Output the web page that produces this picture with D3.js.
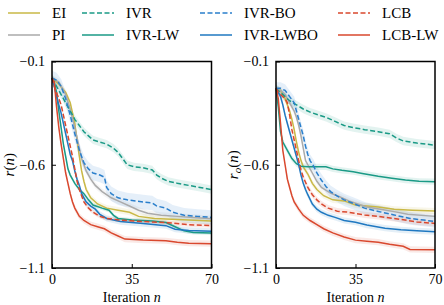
<!DOCTYPE html>
<html>
<head>
<meta charset="utf-8">
<script src="https://cdn.jsdelivr.net/npm/d3@7"></script>
<style>
  body { margin: 0; background: #fff; }
  text { font-family: "Liberation Serif", "DejaVu Serif", serif; fill: #000; }
</style>
</head>
<body>
<script>
const W = 444, H = 305;

const iterTicks = [0, 35, 70];
const rTicks = [-0.1, -0.6, -1.1];

const methods = ['EI', 'PI', 'IVR', 'IVR-LW', 'IVR-BO', 'IVR-LWBO', 'LCB', 'LCB-LW'];
const colors = ['#c9b846', '#aaaaaa', '#1a9a86', '#1a9a86', '#2a7fcc', '#1f78c1', '#d9482e', '#d9482e'];
const dashed = [false, false, true, false, true, false, true, false];

// left panel, r(n)
const leftEI = [[0,-0.18],[3,-0.21],[6,-0.25],[8,-0.30],[10,-0.40],[11,-0.48],[12,-0.56],[13,-0.63],[14,-0.68],[15,-0.72],[17,-0.76],[20,-0.79],[24,-0.81],[29,-0.82],[34,-0.83],[38,-0.85],[45,-0.86],[55,-0.865],[70,-0.872]];
const leftPI = [[0,-0.18],[3,-0.20],[6,-0.26],[8,-0.33],[10,-0.42],[12,-0.52],[13,-0.57],[15,-0.63],[17,-0.67],[19,-0.70],[22,-0.73],[26,-0.76],[30,-0.78],[34,-0.80],[38,-0.82],[42,-0.835],[48,-0.845],[55,-0.85],[62,-0.855],[70,-0.862]];
const leftIVR = [[0,-0.18],[2,-0.22],[4,-0.26],[6,-0.30],[8,-0.34],[10,-0.38],[12,-0.41],[14,-0.44],[16,-0.46],[18,-0.48],[21,-0.49],[24,-0.50],[27,-0.52],[29,-0.54],[31,-0.57],[33,-0.60],[36,-0.61],[40,-0.615],[44,-0.625],[46,-0.65],[48,-0.665],[51,-0.68],[55,-0.69],[60,-0.70],[65,-0.71],[70,-0.72]];
const leftIVRLW = [[0,-0.18],[1,-0.20],[2,-0.25],[3,-0.34],[4,-0.42],[5,-0.50],[6,-0.56],[7,-0.62],[8,-0.65],[10,-0.69],[12,-0.72],[14,-0.74],[16,-0.77],[18,-0.795],[22,-0.81],[25,-0.82],[27,-0.845],[29,-0.86],[35,-0.868],[44,-0.872],[50,-0.88],[54,-0.90],[58,-0.92],[62,-0.928],[70,-0.93]];
const leftIVRBO = [[0,-0.18],[2,-0.19],[4,-0.22],[6,-0.28],[8,-0.36],[10,-0.45],[12,-0.53],[14,-0.59],[16,-0.62],[18,-0.64],[21,-0.65],[23,-0.66],[24,-0.71],[26,-0.74],[29,-0.76],[33,-0.77],[40,-0.78],[44,-0.785],[46,-0.80],[50,-0.81],[53,-0.83],[58,-0.845],[64,-0.85],[70,-0.855]];
const leftIVRLWBO = [[0,-0.18],[1,-0.22],[2,-0.27],[3,-0.31],[4,-0.35],[5,-0.40],[6,-0.45],[7,-0.50],[8,-0.55],[9,-0.58],[10,-0.63],[11,-0.67],[12,-0.70],[13,-0.74],[15,-0.78],[17,-0.80],[19,-0.815],[21,-0.84],[24,-0.86],[30,-0.875],[40,-0.885],[50,-0.895],[54,-0.912],[60,-0.918],[70,-0.922]];
const leftLCB = [[0,-0.18],[1,-0.22],[2,-0.25],[3,-0.28],[4,-0.31],[5,-0.36],[6,-0.41],[7,-0.46],[8,-0.51],[9,-0.56],[10,-0.62],[11,-0.68],[12,-0.72],[14,-0.78],[16,-0.81],[18,-0.83],[21,-0.85],[24,-0.86],[30,-0.868],[40,-0.875],[50,-0.88],[60,-0.89],[70,-0.895]];
const leftLCBLW = [[0,-0.18],[1,-0.20],[2,-0.32],[3,-0.42],[4,-0.50],[5,-0.57],[6,-0.64],[7,-0.69],[8,-0.74],[9,-0.78],[10,-0.81],[12,-0.85],[14,-0.87],[17,-0.89],[20,-0.90],[23,-0.91],[26,-0.93],[29,-0.945],[32,-0.96],[40,-0.965],[50,-0.968],[55,-0.975],[60,-0.98],[70,-0.982]];

// right panel, r_o(n)
const rightEI = [[0,-0.23],[2,-0.24],[4,-0.28],[6,-0.34],[7,-0.38],[8,-0.43],[9,-0.49],[10,-0.54],[11,-0.58],[12,-0.61],[14,-0.645],[16,-0.69],[18,-0.72],[21,-0.75],[25,-0.77],[30,-0.775],[35,-0.795],[40,-0.80],[45,-0.805],[52,-0.816],[60,-0.82],[70,-0.824]];
const rightPI = [[0,-0.23],[2,-0.24],[4,-0.26],[6,-0.30],[8,-0.34],[9,-0.37],[10,-0.41],[11,-0.46],[12,-0.52],[13,-0.58],[14,-0.60],[16,-0.64],[18,-0.68],[20,-0.71],[24,-0.737],[28,-0.755],[32,-0.775],[36,-0.79],[40,-0.805],[46,-0.815],[52,-0.827],[58,-0.84],[70,-0.85]];
const rightIVR = [[0,-0.23],[2,-0.25],[4,-0.27],[6,-0.29],[9,-0.31],[12,-0.33],[15,-0.345],[19,-0.36],[22,-0.37],[26,-0.39],[30,-0.41],[34,-0.42],[39,-0.43],[45,-0.44],[50,-0.45],[53,-0.47],[56,-0.485],[62,-0.495],[70,-0.505]];
const rightIVRLW = [[0,-0.23],[1,-0.32],[2,-0.44],[3,-0.49],[5,-0.53],[7,-0.57],[9,-0.595],[11,-0.607],[14,-0.61],[22,-0.61],[25,-0.62],[29,-0.627],[34,-0.634],[38,-0.642],[45,-0.656],[51,-0.665],[57,-0.674],[63,-0.68],[70,-0.682]];
const rightIVRBO = [[0,-0.23],[2,-0.23],[4,-0.24],[6,-0.27],[8,-0.30],[9,-0.34],[10,-0.38],[11,-0.42],[12,-0.46],[13,-0.51],[14,-0.55],[15,-0.58],[16.5,-0.605],[18,-0.64],[20,-0.675],[22,-0.705],[24,-0.73],[27,-0.752],[30,-0.77],[34,-0.787],[39,-0.81],[45,-0.826],[52,-0.843],[59,-0.86],[65,-0.868],[70,-0.875]];
const rightIVRLWBO = [[0,-0.23],[1,-0.25],[2,-0.27],[3,-0.31],[4,-0.36],[5,-0.40],[6,-0.44],[7,-0.48],[8,-0.52],[9,-0.56],[10,-0.60],[11,-0.65],[12,-0.69],[13,-0.72],[14,-0.745],[16,-0.79],[18,-0.815],[20,-0.83],[23,-0.845],[26,-0.855],[30,-0.87],[35,-0.878],[40,-0.892],[48,-0.907],[55,-0.915],[62,-0.92],[70,-0.924]];
const rightLCB = [[0,-0.23],[1,-0.25],[2,-0.26],[3,-0.27],[4,-0.28],[5,-0.30],[6,-0.36],[7,-0.43],[8,-0.48],[9,-0.53],[10,-0.58],[11,-0.625],[12,-0.66],[14,-0.71],[16,-0.745],[18,-0.77],[20,-0.79],[23,-0.81],[27,-0.825],[32,-0.83],[39,-0.843],[45,-0.85],[52,-0.86],[58,-0.87],[62,-0.877],[70,-0.884]];
const rightLCBLW = [[0,-0.23],[1,-0.28],[2,-0.40],[3,-0.53],[4,-0.60],[5,-0.67],[6,-0.71],[7,-0.75],[8,-0.78],[10,-0.815],[12,-0.845],[15,-0.87],[18,-0.89],[21,-0.91],[25,-0.93],[30,-0.95],[35,-0.965],[40,-0.97],[45,-0.975],[50,-0.985],[56,-0.995],[59,-1.01],[70,-1.012]];

// half width of the shaded band, per method
const leftSpread = [0.015, 0.015, 0.02, 0.01, 0.035, 0.015, 0.01, 0.015];
const rightSpread = [0.015, 0.015, 0.02, 0.015, 0.03, 0.015, 0.015, 0.015];

const panels = [
  { x0: 52, x1: 211.5, label: 'r', series: [leftEI, leftPI, leftIVR, leftIVRLW, leftIVRBO, leftIVRLWBO, leftLCB, leftLCBLW], spread: leftSpread, ylabX: 14 },
  { x0: 276, x1: 435, label: 'ro', series: [rightEI, rightPI, rightIVR, rightIVRLW, rightIVRBO, rightIVRLWBO, rightLCB, rightLCBLW], spread: rightSpread, ylabX: 238 }
];
const yTop = 61.5, yBot = 268;

const svg = d3.select('body').append('svg')
    .attr('width', W)
    .attr('height', H);

const yScale = d3.scaleLinear().domain([-0.1, -1.1]).range([yTop, yBot]);

panels.forEach(p => {
    const xScale = d3.scaleLinear().domain([0, 70]).range([p.x0, p.x1]);
    const g = svg.append('g');

    const area = d3.area().x(d => xScale(d[0]))
        .y0((d) => yScale(d[1] - d[2]))
        .y1((d) => yScale(d[1] + d[2]));
    const line = d3.line().x(d => xScale(d[0])).y(d => yScale(d[1]));

    // bands
    p.series.forEach((s, i) => {
        g.append('path')
            .attr('d', area(s.map(d => [d[0], d[1], p.spread[i]])))
            .attr('fill', colors[i])
            .attr('fill-opacity', 0.12);
    });

    // lines
    p.series.forEach((s, i) => {
        g.append('path')
            .attr('d', line(s))
            .attr('fill', 'none')
            .attr('stroke', colors[i])
            .attr('stroke-width', 1.5)
            .attr('stroke-dasharray', dashed[i] ? '5,2.5' : null);
    });

    // frame
    g.append('rect')
        .attr('x', p.x0).attr('y', yTop)
        .attr('width', p.x1 - p.x0).attr('height', yBot - yTop)
        .attr('fill', 'none').attr('stroke', '#000').attr('stroke-width', 1.5);

    // axes, ticks pointing inward
    const xAxis = d3.axisBottom(xScale).tickValues(iterTicks).tickSizeInner(-4).tickSizeOuter(0).tickPadding(6);
    const yAxis = d3.axisLeft(yScale).tickValues(rTicks).tickSizeInner(-4).tickSizeOuter(0).tickPadding(7)
        .tickFormat(d => d3.format('.1f')(d).replace('-', '\u2212'));

    g.append('g').attr('transform', `translate(0,${yBot})`).call(xAxis)
        .call(a => a.select('.domain').remove())
        .call(a => a.selectAll('text').attr('font-size', 14).attr('font-family', 'Liberation Serif'))
        .call(a => a.selectAll('line').attr('stroke-width', 1));
    g.append('g').attr('transform', `translate(${p.x0},0)`).call(yAxis)
        .call(a => a.select('.domain').remove())
        .call(a => a.selectAll('text').attr('font-size', 14).attr('font-family', 'Liberation Serif'))
        .call(a => a.selectAll('line').attr('stroke-width', 1));

    // x label
    const xl = g.append('text')
        .attr('x', (p.x0 + p.x1) / 2).attr('y', 302)
        .attr('text-anchor', 'middle')
        .attr('font-size', 14);
    xl.append('tspan').text('Iteration ');
    xl.append('tspan').attr('font-style', 'italic').text('n');

    // y label
    const yl = g.append('text')
        .attr('transform', `translate(${p.ylabX},${(yTop + yBot) / 2}) rotate(-90)`)
        .attr('text-anchor', 'middle')
        .attr('font-size', 15);
    if (p.label === 'r') {
        yl.append('tspan').attr('font-style', 'italic').text('r');
        yl.append('tspan').text('(');
        yl.append('tspan').attr('font-style', 'italic').text('n');
        yl.append('tspan').text(')');
    } else {
        yl.append('tspan').attr('font-style', 'italic').text('r');
        yl.append('tspan').attr('font-style', 'italic').attr('font-size', 11).attr('dy', 3).text('o');
        yl.append('tspan').attr('dy', -3).text('(');
        yl.append('tspan').attr('font-style', 'italic').text('n');
        yl.append('tspan').text(')');
    }
});

// legend: 4 columns of 2 rows
const legCols = [8, 82, 200, 338];
const legRows = [13, 35];
const legend = svg.append('g');
methods.forEach((m, i) => {
    const cx = legCols[Math.floor(i / 2)];
    const cy = legRows[i % 2];
    legend.append('line')
        .attr('x1', cx).attr('x2', cx + 32)
        .attr('y1', cy).attr('y2', cy)
        .attr('stroke', colors[i]).attr('stroke-width', 1.5)
        .attr('stroke-dasharray', dashed[i] ? '5,2.5' : null);
    legend.append('text')
        .attr('x', cx + 44).attr('y', cy + 5)
        .attr('font-size', 15)
        .text(m);
});
</script>
</body>
</html>
